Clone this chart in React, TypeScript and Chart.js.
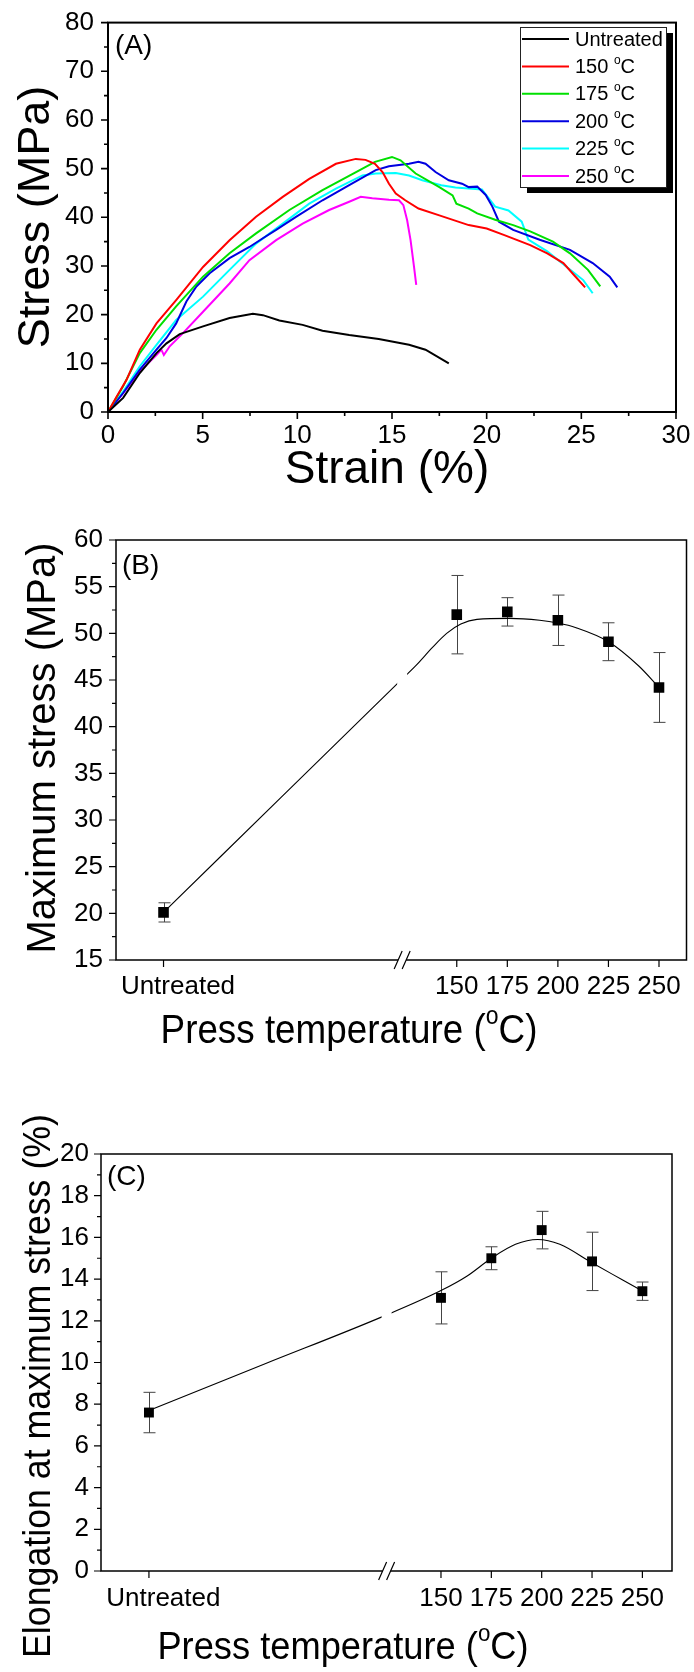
import React, { useEffect, useRef } from 'react';
import { Chart, registerables } from 'chart.js';
Chart.register(...registerables);

const FONT = '"Liberation Sans", Arial, Helvetica, sans-serif';

// ---------- Panel A: stress-strain curves ----------
const seriesNames = ['Untreated', '150', '175', '200', '225', '250'];
const seriesColors = ['#000000', '#ff0000', '#00e000', '#0000e0', '#00ffff', '#ff00ff'];

const untreatedStrain = [0, 0.8, 1.68, 2.56, 3.09, 3.79, 5.02, 6.42, 7.65, 8.18, 9.05, 10.28, 11.33, 12.74, 14.3, 15.9, 16.77, 18.0];
const untreatedStress = [0, 2.9, 8.0, 12.1, 14.1, 16.0, 17.6, 19.3, 20.2, 19.9, 18.8, 17.9, 16.7, 15.8, 15.0, 13.8, 12.8, 10.0];

const t150Strain = [0, 0.46, 0.98, 1.68, 2.56, 3.6, 5.02, 6.42, 7.82, 9.23, 10.63, 12.04, 13.09, 13.6, 14.1, 14.5, 14.84, 15.2, 15.7, 16.4, 17.5, 19.05, 20.0, 20.9, 22.3, 23.2, 24.05, 24.6, 25.2];
const t150Stress = [0, 3.2, 6.6, 12.8, 18.2, 23.0, 29.8, 35.3, 40.1, 44.2, 47.9, 51.0, 52.0, 51.8, 51.0, 49.3, 46.9, 44.9, 43.5, 41.8, 40.4, 38.4, 37.7, 36.4, 34.3, 32.6, 30.6, 28.2, 25.6];

const t175Strain = [0, 0.8, 1.68, 2.56, 3.6, 5.02, 6.42, 7.82, 9.58, 11.33, 13.1, 14.1, 15.0, 15.45, 16.25, 17.5, 18.2, 18.4, 19.05, 19.5, 20.45, 21.4, 22.3, 23.5, 24.4, 25.35, 26.0];
const t175Stress = [0, 5.3, 12.1, 16.9, 21.7, 27.8, 32.6, 36.7, 41.5, 45.6, 49.3, 51.4, 52.4, 51.7, 49.0, 46.2, 44.5, 42.8, 41.8, 40.8, 39.5, 38.4, 37.1, 35.0, 32.6, 29.2, 25.8];

const t200Strain = [0, 0.8, 1.68, 2.56, 3.09, 3.6, 4.14, 4.67, 5.37, 6.42, 7.47, 8.18, 8.88, 9.93, 11.33, 12.74, 14.14, 14.84, 15.9, 16.4, 16.77, 17.3, 18.0, 18.7, 19.05, 19.5, 19.95, 20.3, 20.65, 21.4, 22.8, 24.4, 25.6, 26.5, 26.9];
const t200Stress = [0, 3.9, 8.7, 12.8, 15.2, 18.2, 22.7, 25.8, 28.5, 31.6, 33.9, 35.7, 37.4, 40.1, 43.5, 46.6, 49.7, 50.5, 51.0, 51.4, 51.0, 49.3, 47.6, 46.9, 46.2, 46.3, 44.6, 42.2, 39.1, 37.4, 35.4, 33.3, 30.6, 27.8, 25.6];

const t225Strain = [0, 0.8, 1.68, 2.56, 3.6, 5.02, 6.42, 7.82, 9.23, 10.63, 12.04, 13.44, 14.14, 15.2, 15.9, 16.6, 17.6, 18.35, 19.05, 19.75, 20.45, 21.15, 21.85, 22.2, 23.2, 24.2, 25.1, 25.6];
const t225Stress = [0, 4.2, 9.4, 13.8, 18.9, 23.7, 29.2, 34.6, 38.7, 42.8, 45.9, 48.6, 49.0, 49.1, 48.6, 47.6, 46.6, 46.1, 45.9, 45.7, 42.2, 41.4, 39.1, 35.4, 33.0, 29.9, 27.1, 24.4];

const t250Strain = [0, 0.8, 1.68, 2.56, 2.82, 2.95, 3.26, 3.96, 5.02, 6.42, 7.47, 8.88, 10.28, 11.68, 12.74, 13.35, 13.96, 14.84, 15.37, 15.6, 15.8, 15.98, 16.16, 16.28];
const t250Stress = [0, 3.9, 8.3, 11.7, 12.8, 11.7, 13.5, 16.2, 20.6, 26.4, 31.2, 35.3, 38.7, 41.5, 43.2, 44.2, 43.9, 43.6, 43.5, 42.5, 39.4, 35.3, 29.9, 26.1];

const strainSeries = [untreatedStrain, t150Strain, t175Strain, t200Strain, t225Strain, t250Strain];
const stressSeries = [untreatedStress, t150Stress, t175Stress, t200Stress, t225Stress, t250Stress];

const strainTicks = [0, 5, 10, 15, 20, 25, 30];
const strainMinor = [2.5, 7.5, 12.5, 17.5, 22.5, 27.5];
const stressTicks = [0, 10, 20, 30, 40, 50, 60, 70, 80];
const stressMinor = [5, 15, 25, 35, 45, 55, 65, 75];

// ---------- Panels B & C ----------
const temperatureLabels = ['Untreated', '150', '175', '200', '225', '250'];
const untreatedPos = 5;
const temperaturePos = [untreatedPos, 150, 175, 200, 225, 250];
const axisBreakPos = 123;

const maxStress = [20.1, 52.0, 52.3, 51.4, 49.1, 44.2];
const maxStressErr = [1.03, 4.2, 1.52, 2.7, 2.03, 3.74];
const maxStressFitPos = [5, 63, 121, 130, 138, 145, 152, 160, 176, 191, 200, 209, 225, 240, 250];
const maxStressFit = [20.1, 32.4, 44.7, 46.6, 48.5, 50.0, 51.0, 51.5, 51.6, 51.4, 51.1, 50.6, 49.1, 46.5, 44.2];
const maxStressTicks = [15, 20, 25, 30, 35, 40, 45, 50, 55, 60];
const maxStressMinor = [17.5, 22.5, 27.5, 32.5, 37.5, 42.5, 47.5, 52.5, 57.5];

const elongation = [7.6, 13.1, 15.0, 16.35, 14.85, 13.42];
const elongationErr = [0.97, 1.25, 0.55, 0.9, 1.4, 0.44];
const elongationFitPos = [5, 63, 121, 150, 163, 175, 187, 198, 209, 225, 240, 250];
const elongationFit = [7.7, 9.95, 12.2, 13.45, 14.15, 15.0, 15.67, 15.9, 15.67, 14.78, 13.97, 13.43];
const elongationTicks = [0, 2, 4, 6, 8, 10, 12, 14, 16, 18, 20];
const elongationMinor = [1, 3, 5, 7, 9, 11, 13, 15, 17, 19];

type Part = { text: string; sup?: boolean };

function drawRich(ctx: CanvasRenderingContext2D, parts: Part[], cx: number, cy: number, size: number, rotate = false, align: 'center' | 'left' = 'center', stretch = 1) {
  ctx.save();
  ctx.translate(cx, cy);
  if (rotate) ctx.rotate(-Math.PI / 2);
  ctx.scale(stretch, 1);
  const supSize = Math.round(size * 0.62);
  const widths = parts.map((p) => {
    ctx.font = `${p.sup ? supSize : size}px ${FONT}`;
    return ctx.measureText(p.text).width;
  });
  const total = widths.reduce((a, b) => a + b, 0);
  let x = align === 'center' ? -total / 2 : 0;
  ctx.textBaseline = 'middle';
  ctx.textAlign = 'left';
  ctx.fillStyle = '#000';
  parts.forEach((p, i) => {
    ctx.font = `${p.sup ? supSize : size}px ${FONT}`;
    ctx.fillText(p.text, x, p.sup ? -size * 0.36 : 0);
    x += widths[i];
  });
  ctx.restore();
}

type Deco = {
  xMajor: number[]; xMinor: number[]; yMajor: number[]; yMinor: number[];
  frameWidth: number;
  breakAt?: number;
  panelLabel: string; panelLabelPos: [number, number];
  xTitle: Part[]; xTitlePos: [number, number]; xTitleSize: number; xTitleStretch: number;
  yTitle: Part[]; yTitlePos: [number, number]; yTitleSize: number; yTitleStretch: number;
  errPos?: number[]; errVal?: number[]; errSize?: number[];
  legend?: boolean;
};

function decoPlugin(d: Deco) {
  return {
    id: 'deco',
    beforeDatasetsDraw(chart: any) {
      if (!d.errPos) return;
      const ctx = chart.ctx as CanvasRenderingContext2D;
      const xs = chart.scales.x, ys = chart.scales.y;
      ctx.save();
      ctx.strokeStyle = '#444';
      ctx.lineWidth = 1;
      d.errPos.forEach((p, i) => {
        const px = Math.round(xs.getPixelForValue(p)) + 0.5;
        const t = ys.getPixelForValue(d.errVal![i] + d.errSize![i]);
        const b = ys.getPixelForValue(d.errVal![i] - d.errSize![i]);
        ctx.beginPath();
        ctx.moveTo(px, t); ctx.lineTo(px, b);
        ctx.moveTo(px - 6, t); ctx.lineTo(px + 6, t);
        ctx.moveTo(px - 6, b); ctx.lineTo(px + 6, b);
        ctx.stroke();
      });
      ctx.restore();
    },
    afterDatasetsDraw(chart: any) {
      if (d.breakAt === undefined) return;
      const ctx = chart.ctx as CanvasRenderingContext2D;
      const a = chart.chartArea;
      const px = chart.scales.x.getPixelForValue(d.breakAt);
      ctx.save();
      ctx.fillStyle = '#fff';
      ctx.fillRect(px - 5, a.top + 2, 10, a.bottom - a.top - 4);
      ctx.restore();
    },
    afterDraw(chart: any) {
      const ctx = chart.ctx as CanvasRenderingContext2D;
      const a = chart.chartArea;
      const xs = chart.scales.x, ys = chart.scales.y;
      ctx.save();
      ctx.strokeStyle = '#000';
      ctx.lineWidth = d.frameWidth;
      ctx.strokeRect(a.left, a.top, a.right - a.left, a.bottom - a.top);
      ctx.lineWidth = d.frameWidth * 0.8;
      ctx.beginPath();
      d.yMajor.forEach((v) => { const y = ys.getPixelForValue(v); ctx.moveTo(a.left, y); ctx.lineTo(a.left - 7, y); });
      d.yMinor.forEach((v) => { const y = ys.getPixelForValue(v); ctx.moveTo(a.left, y); ctx.lineTo(a.left - 4, y); });
      d.xMajor.forEach((v) => { const x = xs.getPixelForValue(v); ctx.moveTo(x, a.bottom); ctx.lineTo(x, a.bottom + 7); });
      d.xMinor.forEach((v) => { const x = xs.getPixelForValue(v); ctx.moveTo(x, a.bottom); ctx.lineTo(x, a.bottom + 4); });
      ctx.stroke();
      if (d.breakAt !== undefined) {
        const px = xs.getPixelForValue(d.breakAt);
        ctx.fillStyle = '#fff';
        ctx.fillRect(px - 4, a.bottom - 3, 8, 6);
        ctx.lineWidth = 1.2;
        ctx.beginPath();
        [-4, 4].forEach((o) => { ctx.moveTo(px + o - 4, a.bottom + 9); ctx.lineTo(px + o + 4, a.bottom - 9); });
        ctx.stroke();
      }
      ctx.restore();
      ctx.save();
      ctx.font = `28px ${FONT}`;
      ctx.fillStyle = '#000';
      ctx.textBaseline = 'middle';
      ctx.textAlign = 'left';
      ctx.fillText(d.panelLabel, d.panelLabelPos[0], d.panelLabelPos[1]);
      ctx.restore();
      drawRich(ctx, d.xTitle, d.xTitlePos[0], d.xTitlePos[1], d.xTitleSize, false, 'center', d.xTitleStretch);
      drawRich(ctx, d.yTitle, d.yTitlePos[0], d.yTitlePos[1], d.yTitleSize, true, 'center', d.yTitleStretch);
      if (d.legend) {
        const L = 520, T = 27, R = 666, B = 187;
        ctx.save();
        ctx.fillStyle = '#000';
        ctx.fillRect(L + 7, T + 6, R - L, B - T);
        ctx.fillStyle = '#fff';
        ctx.fillRect(L, T, R - L, B - T);
        ctx.strokeStyle = '#222';
        ctx.lineWidth = 1;
        ctx.strokeRect(L + 0.5, T + 0.5, R - L, B - T);
        ctx.restore();
        seriesNames.forEach((name, i) => {
          const y = T + 12 + i * 27.4;
          ctx.save();
          ctx.strokeStyle = seriesColors[i];
          ctx.lineWidth = 2;
          ctx.beginPath();
          ctx.moveTo(L + 2, y); ctx.lineTo(L + 49, y);
          ctx.stroke();
          ctx.restore();
          const parts: Part[] = i === 0 ? [{ text: name }] : [{ text: name + ' ' }, { text: 'o', sup: true }, { text: 'C' }];
          drawRich(ctx, parts, L + 55, y + 1, 20, false, 'left');
        });
      }
    },
  };
}

function tickFont() {
  return { family: FONT, size: 26 };
}

function hiddenGrid() {
  return { display: true, drawOnChartArea: false, color: 'rgba(0,0,0,0)', tickColor: 'rgba(0,0,0,0)', tickLength: 7 };
}

function configA(): any {
  return {
    type: 'line',
    data: {
      datasets: seriesNames.map((n, i) => ({
        label: n,
        data: strainSeries[i].map((x, j) => ({ x, y: stressSeries[i][j] })),
        borderColor: seriesColors[i],
        borderWidth: 2,
        pointRadius: 0,
        tension: 0,
        fill: false,
      })),
    },
    options: {
      animation: false,
      responsive: false,
      layout: { padding: { top: 22, right: 18, left: 0, bottom: 0 } },
      plugins: { legend: { display: false }, tooltip: { enabled: false } },
      scales: {
        x: {
          type: 'linear', min: 0, max: 30,
          afterBuildTicks: (s: any) => { s.ticks = strainTicks.map((v) => ({ value: v })); },
          afterFit: (s: any) => { s.height = 88; },
          grid: hiddenGrid(), border: { display: false },
          ticks: { font: tickFont(), color: '#000', padding: 1, maxRotation: 0, autoSkip: false },
        },
        y: {
          type: 'linear', min: 0, max: 80,
          afterBuildTicks: (s: any) => { s.ticks = stressTicks.map((v) => ({ value: v })); },
          afterFit: (s: any) => { s.width = 108; },
          grid: hiddenGrid(), border: { display: false },
          ticks: { font: tickFont(), color: '#000', padding: 7 },
        },
      },
    },
    plugins: [decoPlugin({
      xMajor: strainTicks, xMinor: strainMinor, yMajor: stressTicks, yMinor: stressMinor,
      frameWidth: 2,
      panelLabel: '(A)', panelLabelPos: [115, 46],
      xTitle: [{ text: 'Strain (%)' }], xTitlePos: [387, 470], xTitleSize: 46, xTitleStretch: 1,
      yTitle: [{ text: 'Stress (MPa)' }], yTitlePos: [37, 217], yTitleSize: 45, yTitleStretch: 1,
      legend: true,
    })],
  };
}

function tempLabel(v: number) {
  const i = temperaturePos.indexOf(v);
  if (i < 0) return '';
  return i === 0 ? '    ' + temperatureLabels[0] : temperatureLabels[i];
}

function configTemp(opts: {
  values: number[]; errs: number[]; fitPos: number[]; fit: number[];
  yMin: number; yMax: number; yTicks: number[]; yMinor: number[];
  xMin: number; xMax: number;
  padding: any; yWidth: number; xHeight: number; yPad: number; xPad: number;
  pointRadius: number;
  label: string; labelPos: [number, number];
  xTitlePos: [number, number]; xTitleSize: number; xTitleStretch: number;
  yTitle: string; yTitlePos: [number, number]; yTitleSize: number; yTitleStretch: number;
}): any {
  return {
    type: 'line',
    data: {
      datasets: [
        {
          data: temperaturePos.map((x, i) => ({ x, y: opts.values[i] })),
          showLine: false,
          pointStyle: 'rect',
          pointRadius: opts.pointRadius,
          pointBackgroundColor: '#000',
          pointBorderColor: '#000',
          pointBorderWidth: 0,
        },
        {
          data: opts.fitPos.map((x, i) => ({ x, y: opts.fit[i] })),
          borderColor: '#000',
          borderWidth: 1.1,
          pointRadius: 0,
          cubicInterpolationMode: 'monotone',
          fill: false,
        },
      ],
    },
    options: {
      animation: false,
      responsive: false,
      layout: { padding: opts.padding },
      plugins: { legend: { display: false }, tooltip: { enabled: false } },
      scales: {
        x: {
          type: 'linear', min: opts.xMin, max: opts.xMax,
          afterBuildTicks: (s: any) => { s.ticks = temperaturePos.map((v) => ({ value: v })); },
          afterFit: (s: any) => { s.height = opts.xHeight; },
          grid: hiddenGrid(), border: { display: false },
          ticks: { font: tickFont(), color: '#000', padding: opts.xPad, maxRotation: 0, autoSkip: false, callback: (v: any) => tempLabel(Number(v)) },
        },
        y: {
          type: 'linear', min: opts.yMin, max: opts.yMax,
          afterBuildTicks: (s: any) => { s.ticks = opts.yTicks.map((v) => ({ value: v })); },
          afterFit: (s: any) => { s.width = opts.yWidth; },
          grid: hiddenGrid(), border: { display: false },
          ticks: { font: tickFont(), color: '#000', padding: opts.yPad },
        },
      },
    },
    plugins: [decoPlugin({
      xMajor: temperaturePos, xMinor: [], yMajor: opts.yTicks, yMinor: opts.yMinor,
      frameWidth: 1.5,
      breakAt: axisBreakPos,
      panelLabel: opts.label, panelLabelPos: opts.labelPos,
      xTitle: [{ text: 'Press temperature (' }, { text: 'o', sup: true }, { text: 'C)' }],
      xTitlePos: opts.xTitlePos, xTitleSize: opts.xTitleSize, xTitleStretch: opts.xTitleStretch,
      yTitle: [{ text: opts.yTitle }], yTitlePos: opts.yTitlePos, yTitleSize: opts.yTitleSize, yTitleStretch: opts.yTitleStretch,
      errPos: temperaturePos, errVal: opts.values, errSize: opts.errs,
    })],
  };
}

export default function App() {
  const refA = useRef<HTMLCanvasElement>(null);
  const refB = useRef<HTMLCanvasElement>(null);
  const refC = useRef<HTMLCanvasElement>(null);

  useEffect(() => {
    document.body.style.margin = '0';
    const charts: Chart[] = [];
    charts.push(new Chart(refA.current!, configA()));
    charts.push(new Chart(refB.current!, configTemp({
      values: maxStress, errs: maxStressErr, fitPos: maxStressFitPos, fit: maxStressFit,
      yMin: 15, yMax: 60, yTicks: maxStressTicks, yMinor: maxStressMinor,
      xMin: -18.5, xMax: 263.6,
      padding: { top: 40, right: 2, left: 0, bottom: 0 }, yWidth: 116, xHeight: 100, yPad: 6, xPad: 4,
      pointRadius: 7.5,
      label: '(B)', labelPos: [122, 66],
      xTitlePos: [349, 532], xTitleSize: 40, xTitleStretch: 0.92,
      yTitle: 'Maximum stress (MPa)', yTitlePos: [44, 248], yTitleSize: 40, yTitleStretch: 1,
    })));
    charts.push(new Chart(refC.current!, configTemp({
      values: elongation, errs: elongationErr, fitPos: elongationFitPos, fit: elongationFit,
      yMin: 0, yMax: 20, yTicks: elongationTicks, yMinor: elongationMinor,
      xMin: -18.8, xMax: 264.7,
      padding: { top: 94, right: 22, left: 0, bottom: 0 }, yWidth: 101, xHeight: 101, yPad: 5, xPad: 5,
      pointRadius: 7,
      label: '(C)', labelPos: [107, 117],
      xTitlePos: [343, 588], xTitleSize: 39, xTitleStretch: 0.93,
      yTitle: 'Elongation at maximum stress (%)', yTitlePos: [40, 326], yTitleSize: 38, yTitleStretch: 0.94,
    })));
    return () => charts.forEach((c) => c.destroy());
  }, []);

  return (
    <div style={{ position: 'relative', width: 694, height: 1672, background: '#fff', overflow: 'hidden' }}>
      <canvas ref={refA} width={694} height={500} style={{ position: 'absolute', left: 0, top: 0, width: 694, height: 500 }} />
      <canvas ref={refB} width={694} height={560} style={{ position: 'absolute', left: 0, top: 500, width: 694, height: 560 }} />
      <canvas ref={refC} width={694} height={612} style={{ position: 'absolute', left: 0, top: 1060, width: 694, height: 612 }} />
    </div>
  );
}
